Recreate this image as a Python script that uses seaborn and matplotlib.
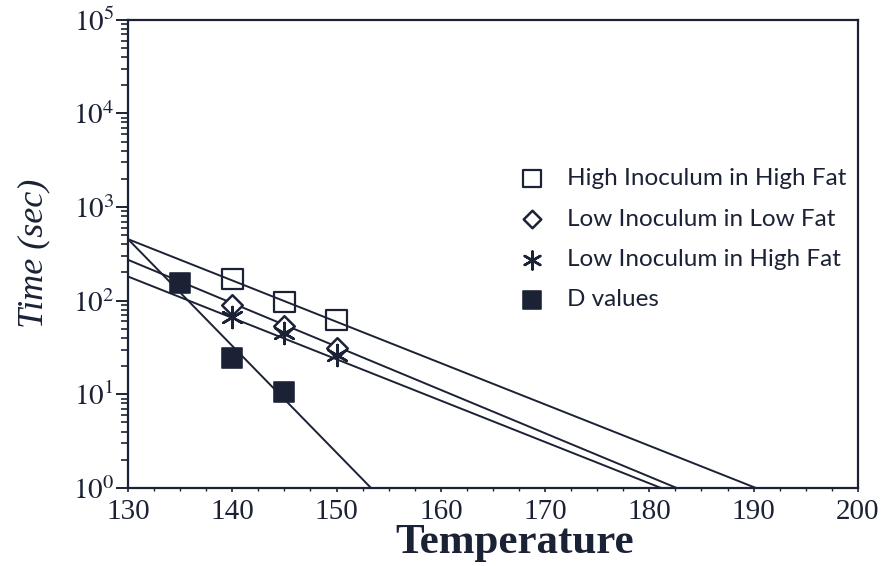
import numpy as np
import pandas as pd
import matplotlib
matplotlib.use("Agg")
import matplotlib.pyplot as plt
import seaborn as sns
from matplotlib.ticker import FixedLocator, FixedFormatter, LogLocator, NullFormatter, MultipleLocator

# measured points (temperature in C, time in sec)
high_hf_temp = [140, 145, 150]
high_hf_time = [171, 97, 62]

low_lf_temp = [140, 145, 150]
low_lf_time = [90, 54, 31]

low_hf_temp = [140, 145, 150]
low_hf_time = [67, 45, 26]

d_temp = [135, 140, 145]
d_time = [155, 24.5, 10.6]

# fitted lines, read as end points (start at 130 C, end where they reach 1 sec)
line_high_hf_temp = [130, 190.2]
line_high_hf_time = [454, 1]
line_low_lf_temp = [130, 182.6]
line_low_lf_time = [273, 1]
line_low_hf_temp = [130, 181.1]
line_low_hf_time = [181, 1]
line_d_temp = [130, 153.3]
line_d_time = [454, 1]

legend_labels = ["High Inoculum in High Fat", "Low Inoculum in Low Fat",
                 "Low Inoculum in High Fat", "D values"]
x_ticks = [130, 140, 150, 160, 170, 180, 190, 200]
y_ticks = [1, 10, 100, 1000, 10000, 100000]
y_tick_labels = ["$10^{0}$", "$10^{1}$", "$10^{2}$", "$10^{3}$", "$10^{4}$", "$10^{5}$"]

ink = "#1c2236"

sns.set_style("ticks")
plt.rcParams["font.family"] = ["Liberation Serif", "DejaVu Serif"]
plt.rcParams["mathtext.fontset"] = "stix"
plt.rcParams["axes.edgecolor"] = ink
plt.rcParams["axes.linewidth"] = 1.6

fig = plt.figure(figsize=(8.89, 5.66), dpi=100)
ax = fig.add_axes([0.144, 0.138, 0.821, 0.827])

# regression lines
for lt, ly in [(line_high_hf_temp, line_high_hf_time), (line_low_lf_temp, line_low_lf_time),
               (line_low_hf_temp, line_low_hf_time), (line_d_temp, line_d_time)]:
    df = pd.DataFrame({"Temperature": lt, "Time": ly})
    sns.lineplot(data=df, x="Temperature", y="Time", ax=ax, color=ink, linewidth=1.4)

# data markers
sns.scatterplot(x=high_hf_temp, y=high_hf_time, ax=ax, marker="s", s=220,
                facecolor="none", edgecolor=ink, linewidth=1.6, label=legend_labels[0], zorder=5)
sns.scatterplot(x=low_lf_temp, y=low_lf_time, ax=ax, marker="D", s=110,
                facecolor="white", edgecolor=ink, linewidth=1.8, label=legend_labels[1], zorder=5)
sns.scatterplot(x=low_hf_temp, y=low_hf_time, ax=ax, marker=(6, 2, 0), s=230,
                color=ink, linewidth=1.8, label=legend_labels[2], zorder=6)
sns.scatterplot(x=d_temp, y=d_time, ax=ax, marker="s", s=210,
                color=ink, edgecolor=ink, label=legend_labels[3], zorder=5)

ax.set_yscale("log")
ax.set_xlim(130, 200)
ax.set_ylim(1, 1e5)

ax.xaxis.set_major_locator(FixedLocator(x_ticks))
ax.yaxis.set_major_locator(FixedLocator(y_ticks))
ax.yaxis.set_major_formatter(FixedFormatter(y_tick_labels))
ax.yaxis.set_minor_locator(LogLocator(base=10, subs=np.arange(2, 10)))
ax.yaxis.set_minor_formatter(NullFormatter())
ax.xaxis.set_minor_locator(MultipleLocator(2.5))

ax.tick_params(axis="y", which="major", direction="out", length=9, width=1.4,
               labelsize=21, pad=1, colors=ink)
ax.tick_params(axis="y", which="minor", direction="out", length=5, width=1.2, colors=ink)
ax.tick_params(axis="x", which="major", direction="out", length=3, width=1.2,
               labelsize=21, pad=5, colors=ink)
ax.tick_params(axis="x", which="minor", direction="out", length=2, width=1, colors=ink)

for s in ax.spines.values():
    s.set_visible(True)

ax.set_xlabel("Temperature", fontsize=31, fontweight="bold", color=ink, labelpad=-1, x=0.53)
ax.set_ylabel("Time (sec)", fontsize=26, fontstyle="italic", color=ink, labelpad=16)

leg = ax.legend(loc="upper left", bbox_to_anchor=(0.49, 0.73), frameon=False,
                labelspacing=0.8, handletextpad=0.45, markerscale=0.85,
                prop={"family": ["Lato", "DejaVu Sans"], "size": 17.5})
for t in leg.get_texts():
    t.set_color(ink)

fig.savefig("out.png", dpi=100)
